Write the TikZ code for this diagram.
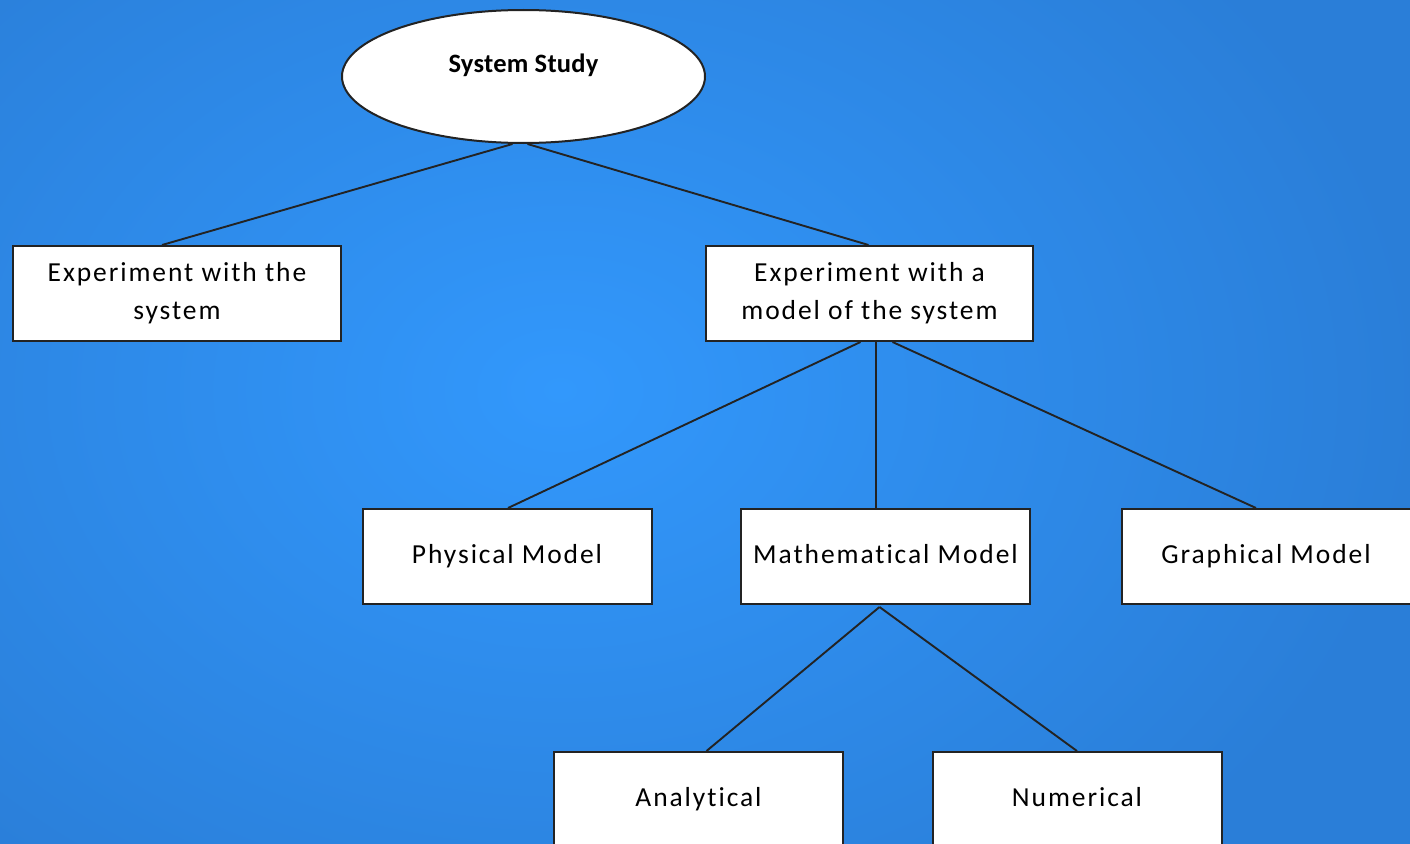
\documentclass[tikz,border=0pt]{standalone}
\usepackage{fontspec}
\setmainfont{Carlito}[LetterSpace=7,Ligatures=NoCommon]
\usetikzlibrary{shapes.geometric,calc}
\definecolor{bgin}{RGB}{50,152,252}
\definecolor{bgout}{RGB}{42,126,216}
\definecolor{edge}{RGB}{35,35,35}
\tikzset{
  box/.style={draw=edge,line width=2pt,fill=white,rectangle,minimum width=289pt,minimum height=95pt,inner sep=0pt,align=center,font=\fontsize{27.5}{38}\selectfont},
  oneline/.style={box,text height=19pt,text depth=6pt},
  conn/.style={draw=edge,line width=1.9pt},
}
\begin{document}
\begin{tikzpicture}[x=1pt,y=-1pt]
\useasboundingbox (0,0) rectangle (1410,843);
\shade[inner color=bgin,outer color=bgout] (-300,-250) rectangle (1420,1030);
\node[ellipse,draw=edge,line width=2pt,fill=white,minimum width=363pt,minimum height=133pt,inner sep=0pt,
  label={[font=\bfseries\fontsize{26.5}{30}\selectfont\addfontfeature{LetterSpace=1},yshift=11pt]center:System Study}] (ss) at (523.5,76.5) {};
\node[box,minimum width=328pt] (b1) at (177,293.5) {Experiment with the\\system};
\node[box,minimum width=327pt] (b2) at (869.5,293.5) {Experiment with a\\model of the system};
\node[oneline] (pm) at (507,556.5) {Physical Model};
\node[oneline] (mm) at (885.5,556.5) {Mathematical Model};
\node[oneline] (gm) at (1266,556.5) {Graphical Model};
\node[oneline] (an) at (698.5,799.5) {Analytical};
\node[oneline] (nu) at (1077,799.5) {Numerical};
\draw[conn] ($(ss.south)+(-11,0)$) -- ($(b1.north)+(-15,0)$);
\draw[conn] ($(ss.south)+(4,0)$) -- ($(b2.north)+(-1,0)$);
\draw[conn] ($(b2.south)+(-9,0)$) -- ($(pm.north)+(1,0)$);
\draw[conn] ($(b2.south)+(6.5,0)$) -- ($(mm.north)+(-9.5,0)$);
\draw[conn] ($(b2.south)+(23,0)$) -- ($(gm.north)+(-10,0)$);
\draw[conn] ($(mm.south)+(-6,2)$) -- ($(an.north)+(8,0)$);
\draw[conn] ($(mm.south)+(-6,2)$) -- ($(nu.north)+(0,0)$);
\end{tikzpicture}
\end{document}
